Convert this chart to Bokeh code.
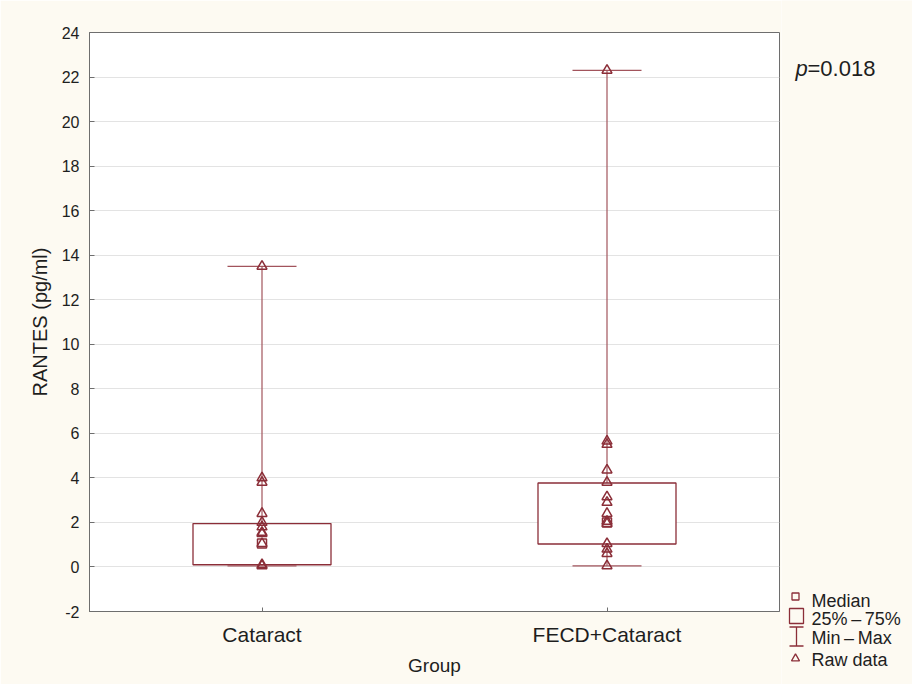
from bokeh.plotting import figure
from bokeh.models import Range1d, FixedTicker, ColumnDataSource
from bokeh.layouts import row
from bokeh.embed import file_html
from bokeh.resources import INLINE
from bokeh.core.properties import value

# ---- data ----
groups = ["Cataract", "FECD+Cataract"]
group_pos = [1, 2]
q1 = [0.1, 1.03]
q3 = [1.95, 3.77]
medians = [1.05, 2.0]
mins = [0.05, 0.05]
maxs = [13.5, 22.3]
raw_cataract = [13.5, 4.0, 3.8, 2.4, 2.0, 1.8, 1.55, 1.5, 1.05, 0.1, 0.05]
raw_fecd = [22.3, 5.65, 5.5, 4.35, 3.8, 3.15, 2.9, 2.4, 2.05, 1.95, 1.05, 0.8, 0.6, 0.05]
y_ticks = list(range(-2, 25, 2))
y_tick_labels = [str(t) for t in y_ticks]
legend_labels = ["Median", "25%\u2009\u2013\u200975%", "Min\u2009\u2013\u2009Max", "Raw data"]
p_text = "=0.018"

# ---- style ----
FONT = "Liberation Sans"
RED = "#8b2e38"
RED2 = "#a2545c"
BG = "#fdfaf2"
TXT = "#1e1e1e"
box_w = 0.4
cap_w = 0.2

W, H = 912, 684
main_w = 781

p = figure(width=main_w, height=H, output_backend="svg", toolbar_location=None,
           x_range=Range1d(0.5, 2.5), y_range=Range1d(-2, 24),
           min_border_left=89, min_border_right=2, min_border_top=32, min_border_bottom=73)
p.background_fill_color = "white"
p.border_fill_color = BG
p.outline_line_color = "#6e6e6e"
p.outline_line_width = 1

p.xgrid.visible = False
p.ygrid.grid_line_color = "#e3e3e3"
p.ygrid.grid_line_width = 1

p.yaxis.ticker = FixedTicker(ticks=y_ticks)
p.yaxis.major_label_overrides = {t: lab for t, lab in zip(y_ticks, y_tick_labels)}
p.yaxis.minor_tick_line_color = None
p.yaxis.major_tick_in = 5
p.yaxis.major_tick_out = 0
p.yaxis.major_label_standoff = 10
p.yaxis.major_label_text_font = FONT
p.yaxis.major_label_text_font_size = "16px"
p.yaxis.major_label_text_color = TXT
p.yaxis.axis_label = "RANTES (pg/ml)"
p.yaxis.axis_label_text_font = FONT
p.yaxis.axis_label_text_font_size = "20px"
p.yaxis.axis_label_text_font_style = "normal"
p.yaxis.axis_label_text_color = TXT
p.yaxis.axis_label_standoff = 8

p.xaxis.ticker = FixedTicker(ticks=group_pos)
p.xaxis.major_label_overrides = {gp: g for gp, g in zip(group_pos, groups)}
p.xaxis.minor_tick_line_color = None
p.xaxis.major_tick_in = 4
p.xaxis.major_tick_out = 0
p.xaxis.major_label_standoff = 11
p.xaxis.major_label_text_font = FONT
p.xaxis.major_label_text_font_size = "21px"
p.xaxis.major_label_text_color = TXT
p.xaxis.axis_label = "Group"
p.xaxis.axis_label_text_font = FONT
p.xaxis.axis_label_text_font_size = "19px"
p.xaxis.axis_label_text_font_style = "normal"
p.xaxis.axis_label_text_color = TXT
p.xaxis.axis_label_standoff = 6

for ax in (p.xaxis, p.yaxis):
    ax.axis_line_color = "#6e6e6e"
    ax.major_tick_line_color = "#6e6e6e"

src = ColumnDataSource(dict(
    x=group_pos, q1=q1, q3=q3, med=medians, lo=mins, hi=maxs,
    left=[g - box_w / 2 for g in group_pos], right=[g + box_w / 2 for g in group_pos],
    cl=[g - cap_w / 2 for g in group_pos], cr=[g + cap_w / 2 for g in group_pos],
))

# whisker line (behind box)
p.segment(x0="x", y0="lo", x1="x", y1="hi", source=src, line_color=RED2, line_width=1.2)
# box
p.quad(left="left", right="right", bottom="q1", top="q3", source=src,
       fill_color="white", line_color=RED, line_width=1.3)
# caps
p.segment(x0="cl", y0="lo", x1="cr", y1="lo", source=src, line_color=RED2, line_width=1.4)
p.segment(x0="cl", y0="hi", x1="cr", y1="hi", source=src, line_color=RED2, line_width=1.4)
# median
p.scatter(x="x", y="med", source=src, marker="square", size=9,
          fill_color=None, line_color=RED, line_width=1.5)
# raw data
raw_x = [group_pos[0]] * len(raw_cataract) + [group_pos[1]] * len(raw_fecd)
raw_y = raw_cataract + raw_fecd
p.scatter(x=raw_x, y=raw_y, marker="triangle", size=10,
          fill_color=None, line_color=RED, line_width=1.5)

# ---- side panel: p-value and legend (pixel coordinates of the panel) ----
side_w = W - main_w
s = figure(width=side_w, height=H, output_backend="svg", toolbar_location=None,
           x_range=Range1d(0, side_w), y_range=Range1d(H, 0),
           min_border=0, min_border_left=0, min_border_right=0,
           min_border_top=0, min_border_bottom=0)
for fig in (p, s):
    try:
        fig.frame_align = False
    except Exception:
        pass
s.axis.visible = False
s.grid.visible = False
s.outline_line_color = None
s.background_fill_color = BG
s.border_fill_color = BG

s.text(x=[14], y=[68], text=["p"], text_font=value(FONT), text_font_size="22px",
       text_font_style="italic", text_color=TXT, text_baseline="middle")
s.text(x=[26], y=[68], text=[p_text], text_font=value(FONT), text_font_size="22px",
       text_color=TXT, text_baseline="middle")

lx = 15
sym_y = [596, 616, 636, 658]
text_y = [600, 618, 637, 659]
s.scatter(x=[lx - 1], y=[sym_y[0]], marker="square", size=7, fill_color=None,
          line_color=RED, line_width=1.3)
s.quad(left=[lx - 7], right=[lx + 7], top=[sym_y[1] - 8], bottom=[sym_y[1] + 7],
       fill_color=None, line_color=RED, line_width=1.3)
s.segment(x0=[lx], y0=[sym_y[2] - 9.5], x1=[lx], y1=[sym_y[2] + 9.5],
          line_color=RED, line_width=1.3)
s.segment(x0=[lx - 7, lx - 7], y0=[sym_y[2] - 9.5, sym_y[2] + 9.5], x1=[lx + 7, lx + 7],
          y1=[sym_y[2] - 9.5, sym_y[2] + 9.5], line_color=RED, line_width=1.3)
s.scatter(x=[lx - 1], y=[sym_y[3]], marker="triangle", size=8, fill_color=None,
          line_color=RED, line_width=1.3)
s.text(x=[30] * 4, y=text_y, text=legend_labels, text_font=value(FONT),
       text_font_size="18px", text_color=TXT, text_baseline="middle")

layout = row(p, s, spacing=0)
open("out.html", "w").write(file_html(layout, INLINE))
